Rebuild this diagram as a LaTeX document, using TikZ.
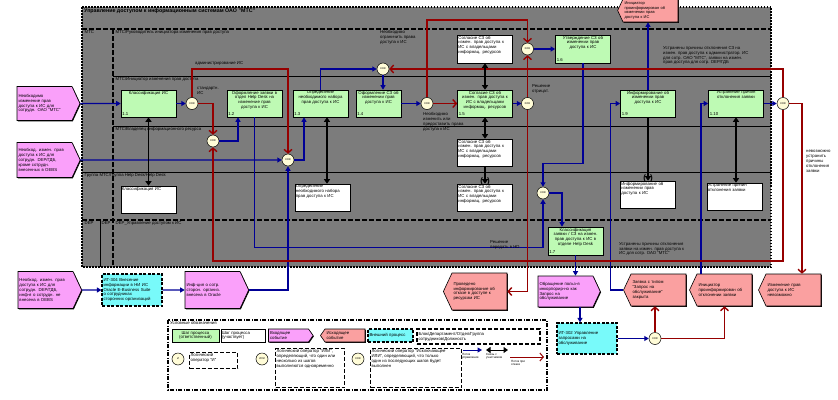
\documentclass[tikz,border=0pt]{standalone}
\usepackage{fontspec}
\setmainfont{Liberation Sans}
\usetikzlibrary{shapes.symbols,arrows.meta,shadows}

\definecolor{fonseryj}{RGB}{124,124,124}
\definecolor{shagzel}{RGB}{190,250,180}
\definecolor{sobvhod}{RGB}{250,160,250}
\definecolor{sobvyhod}{RGB}{250,160,160}
\definecolor{vnesh}{RGB}{120,250,250}
\definecolor{operfon}{RGB}{255,252,215}
\definecolor{potok}{RGB}{0,0,150}
\definecolor{otkaz}{RGB}{150,0,0}

\tikzset{
  ten/.style={drop shadow={shadow xshift=.8pt,shadow yshift=-.8pt,fill=black,opacity=1}},
  stepbox/.style 2 args={draw=black, line width=.6pt, fill=shagzel, ten,
    minimum width=55pt, minimum height=27pt, inner sep=0pt,
    label={[anchor=north, align=center, text width=52pt, inner sep=1pt]north:{#1}},
    label={[anchor=south west, inner sep=1.5pt]south west:{#2}}},
  rolebox/.style={draw=black, line width=.6pt, fill=white, ten,
    minimum width=55pt, minimum height=27pt, inner sep=0pt,
    label={[anchor=north west, align=left, text width=53pt, inner sep=1pt]north west:{#1}}},
  evin/.style={shape=signal, signal to=east, signal pointer angle=130,
    draw=black, line width=.6pt, fill=sobvhod, ten, align=left,
    inner sep=1.5pt, text width=52pt, minimum height=34pt},
  evout/.style={evin, signal to=west, fill=sobvyhod},
  extproc/.style={draw=black, line width=1.2pt, dash pattern=on 3pt off 1.5pt,
    fill=vnesh, align=left, text width=57pt, minimum height=32pt, inner sep=1.5pt},
  oper/.style={circle, draw=black, line width=.5pt, fill=operfon,
    minimum size=12pt, inner sep=0pt, font=\fontsize{2.6}{3}\selectfont},
  upr/.style={draw=potok, line width=1.4pt, -{Triangle[length=4.5pt,width=5pt]}},
  otk/.style={draw=otkaz, line width=1.4pt, -{Straight Barb[length=3.5pt,width=8pt]}},
  isp/.style={draw=black, line width=1.4pt,
    {Triangle[length=4.5pt,width=6pt]}-{Triangle[length=4.5pt,width=6pt]}},
  tun/.style={draw=black, line width=1.4pt, -{Triangle[length=4.5pt,width=6pt]}},
  skob/.style={font=\fontsize{8}{8}\selectfont\bfseries, inner sep=0pt},
  dorozhka/.style={anchor=north west, inner sep=.5pt},
  podp/.style={anchor=north west, align=left, inner sep=0pt},
  razd/.style={line width=1.2pt, dash pattern=on 5pt off 2pt},
  legbox/.style={draw=black, line width=1.2pt, dash pattern=on 4pt off 2pt,
    anchor=north west, inner sep=1pt},
}

\begin{document}
\begin{tikzpicture}[x=1pt, y=-1pt, font=\fontsize{4.3}{4.9}\selectfont]
\useasboundingbox (0,0) rectangle (838,399);

% Поле модели и дорожки
\fill[fonseryj] (82,7) rectangle (771,267);
\draw[line width=1.3pt, dash pattern=on 1.5pt off 1.5pt] (82,7) rectangle (771,267);
\node[anchor=north west, inner sep=1pt, font=\fontsize{5.3}{6}\selectfont\bfseries] (titul) at (83,7.5)
  {Управление доступом к информационным системам ОАО "МТС"};
\draw[razd] (82,29) -- (771,29);
\draw[line width=1pt] (113,76) -- (771,76);
\draw[line width=1pt] (113,126) -- (771,126);
\draw[line width=1pt] (82,172) -- (771,172);
\draw[razd] (82,220) -- (771,220);
\draw[razd] (113,29) -- (113,267);
\draw[line width=.6pt] (100,220) -- (100,267);
\node[dorozhka] (dmts) at (84,30) {МТС};
\node[dorozhka] (da) at (115,30) {МТС/Руководитель инициатора изменения прав доступа};
\node[dorozhka] (db) at (115,77) {МТС/Инициатор изменения прав доступа};
\node[dorozhka] (dc) at (115,127) {МТС/Владелец информационного ресурса};
\node[dorozhka] (dd) at (84,173) {Группа МТС/Группа Help Desk/Help Desk};
\node[dorozhka] (de1) at (84,221) {DEP};
\node[dorozhka] (de2) at (101,221) {DEP};
\node[dorozhka] (de3) at (115,221) {DEP\_Управление доступом к ИС};
\coordinate (ytop) at (0,20);
\coordinate (ybot) at (0,261);

% Шаги процесса
\node[stepbox={Классификация ИС}{1.1}] (s11) at (148.5,103.5) {};
\node[stepbox={Оформление заявки в\\отдел Help Desk на\\изменение прав\\доступа к ИС}{1.2}] (s12) at (254.5,103.5) {};
\node[stepbox={Определение\\необходимого набора\\прав доступа к ИС}{1.3}] (s13) at (320.5,103.5) {};
\node[stepbox={Оформление СЗ об\\изменении прав\\доступа к ИС}{1.4}, minimum width=45pt] (s14) at (378.5,103.5) {};
\node[stepbox={Согласие СЗ об\\измен. прав доступа к\\ИС с владельцами\\информац. ресурсов}{1.5}] (s15) at (485,103.5) {};
\node[stepbox={Утверждение СЗ об\\изменении прав\\доступа к ИС}{1.6}, minimum height=28pt] (s16) at (583,49) {};
\node[stepbox={Классификация\\заявки / СЗ на измен.\\прав доступа к ИС в\\отделе Help Desk}{1.7}, minimum height=28pt] (s17) at (575.5,241) {};
\node[stepbox={Информирование об\\изменении прав\\доступа к ИС}{1.9}] (s19) at (648,103.5) {};
\node[stepbox={Устранение причин\\отклонения заявки}{1.10}] (s110) at (736,103.5) {};

% Участники
\node[rolebox={Классификация ИС}] (r11) at (148.5,199.5) {};
\node[rolebox={Определение\\необходимого набора\\прав доступа к ИС}] (r13) at (322.5,197.5) {};
\node[rolebox={Согласие СЗ об\\измен. прав доступа к\\ИС с владельцами\\информац. ресурсов}, minimum height=28pt] (r15a) at (485,49) {};
\node[rolebox={Согласие СЗ об\\измен. прав доступа к\\ИС с владельцами\\информац. ресурсов}] (r15c) at (485,152.5) {};
\node[rolebox={Согласие СЗ об\\измен. прав доступа к\\ИС с владельцами\\информац. ресурсов}] (r15d) at (485,197.5) {};
\node[rolebox={Информирование об\\изменении прав\\доступа к ИС}] (r19) at (648,194.5) {};
\node[rolebox={Устранение причин\\отклонения заявки}] (r110) at (734.5,196.5) {};

% Логические операторы
\node[oper] (o1) at (192,103.5) {XOR};
\node[oper] (o2) at (213,141) {XOR};
\node[oper] (o3) at (288,160) {XOR};
\node[oper] (o4) at (383,69) {XOR};
\node[oper] (o5) at (427,103.5) {XOR};
\node[oper] (o6) at (527.5,49) {XOR};
\node[oper] (o7) at (527.5,103.5) {XOR};
\node[oper] (o8) at (543,193) {XOR};
\node[oper] (o9) at (783,103.5) {XOR};
\node[oper] (o10) at (655,338.5) {XOR};

% События и внешние процессы
\node[evin] (ev1) at (44.5,103.5) {Необходимо\\изменение прав\\доступа к ИС для\\сотрудн. ОАО "МТС"};
\node[evin, minimum height=35pt] (ev2) at (44.5,160) {Необход. измен. прав\\доступа к ИС для\\сотрудн. DEP/ГДБ,\\кроме сотрудн.\\внесенных в OEBS};
\node[evin, minimum height=37pt] (ev3) at (45.5,290) {Необход. измен. прав\\доступа к ИС для\\сотрудн. DEP/ГДБ,\\инф-я о сотрудн. не\\внесена в OEBS};
\node[extproc] (ext1) at (132,290) {ИТ-304 Внесение\\информации в НИ ИС\\Oracle E-Business Suite\\о сотрудниках\\сторонних организаций};
\node[evin, minimum height=37pt] (ev4) at (212.5,290) {Инф-ция о сотр.\\сторон. организ.\\внесена в Oracle};
\node[evout, minimum height=37pt] (ev5) at (479.5,291.5) {Проведено\\информирование об\\отказе в доступе к\\ресурсам ИС};
\node[evin, minimum height=31pt] (ev6) at (565.5,291.5) {Обращение польз-я\\инкорпорир-но как\\Запрос на\\обслуживание};
\node[extproc, minimum height=31pt] (ext2) at (587,338.5) {ИТ-302 Управление\\запросами на\\обслуживание};
\node[evout, minimum height=32pt] (ev7) at (658.5,290) {Заявка с типом\\"Запрос на\\обслуживание"\\закрыта};
\node[evout, minimum height=32pt] (ev8) at (724.5,290) {Инициатор\\проинформирован об\\отклонении заявки};
\node[evout, minimum height=32pt] (ev9) at (793.5,290) {Изменение прав\\доступа к ИС\\невозможно};
\node[evout, minimum height=23pt, font=\fontsize{4}{4.5}\selectfont] (ev10) at (650.5,10.5) {Инициатор\\проинформирован об\\изменении прав\\доступа к ИС};

% Поток управления
\draw[upr] (ev1) -- (s11);
\draw[upr] (s11) -- (o1);
\draw[upr] (o2.east) -| ([xshift=-16.5pt]s12.south);
\draw[upr] (s12.south) -- ++(0,130) -| (o8.south);
\draw[upr] (ev2) -- (o3);
\draw[upr] (o3.east) -| ([xshift=-16.5pt]s13.south);
\draw[upr] (s13.north) |- (o4.west);
\draw[upr] (o4) -- (o4 |- s14.north);
\draw[upr] (s14) -- (o5);
\draw[upr] (s15) -- (o7);
\draw[upr] (o6) -- (s16);
\draw[upr] (s16.south) -- ++(0,100) -| (o8.north);
\draw[upr] (o8.east) -| ([xshift=-13.5pt]s17.north);
\draw[upr] (s17.south) -- (s17.south |- ev6.north);
\draw[upr] ([xshift=-7pt]ext2.north |- ev6.south) -- ([xshift=-7pt]ext2.north);
\draw[upr] (ext2) -- (o10);
\draw[upr] (ev7.west) -- ++(-13,0) |- (s19.west);
\draw[upr] ([xshift=-23.5pt]ev8.north) |- (s110.west);
\draw[upr] (s19.north) -- (s19.north |- ev10.south);
\draw[upr] (s110) -- (o9);
\draw[upr] (ev3) -- (ext1);
\draw[upr] (ext1) -- (ev4);
\draw[upr] (ev4.east) -| (o3.south);

% Поток при отказе и возврат
\draw[otk] (o1.east) -| (o2.north);
\draw[otk] (o1.north) -- (o1 |- o4) -| (o3.north);
\draw[otk] (o5) -- (s15);
\draw[otk] (o5.north) -- (o5 |- ytop) -| (o6.north);
\draw[otk] (o7) -- (o6);
\draw[otk] (o7.south) |- (ev5.east);
\draw[otk] (o9.north) |- (o4.east);
\draw[otk] (o9.south) -- (o9 |- ybot) -| (o2.south);
\draw[otk] (o9.east) -| ([xshift=8.5pt]ev9.north);
\draw[otk] (o10) -- (o10 |- ev7.south);
\draw[otk] (o10.east) -| (ev8.south);

% Связи с участниками
\draw[isp] (s11) -- (r11);
\draw[isp] ([xshift=6.5pt]s13.south) -- ([xshift=6.5pt]s13.south |- r13.north);
\draw[isp] (s15) -- (r15a);
\draw[isp] (s15) -- (r15c);
\draw[tun] (r15c) -- (r15d);
\draw[tun] (s19) -- (r19);
\draw[isp] (s110.south) -- (s110.south |- r110.north);
\node[skob] (k1) at ([yshift=2.5pt]r15d.north) {(\hspace{4pt})};
\node[skob] (k2) at ([yshift=2.5pt]r19.north) {(\hspace{4pt})};

% Подписи
\node[podp] (t1) at (197,87) {стандартн.\\ИС};
\node[podp] (t2) at (195,61.5) {администрирование ИС};
\node[podp] (t3) at (380,30) {Необходимо\\ограничить права\\доступа к ИС};
\node[podp] (t4) at (423,112) {Необходимо\\изменить или\\предоставить права\\доступа к ИС};
\node[podp] (t5) at (532,84) {Решение\\отрицат.};
\node[podp] (t6) at (663,46) {Устранены причины отклонения СЗ на\\измен. прав доступа к администратор. ИС\\для сотр. ОАО "МТС", заявки на измен.\\прав доступа для сотр. DEP/ГДБ};
\node[podp] (t7) at (619,242) {Устранены причины отклонения\\заявки на измен. прав доступа к\\ИС для сотр. ОАО "МТС"};
\node[podp] (t8) at (490,240) {Решение\\передать в HD};
\node[podp] (t9) at (806,150) {невозможно\\устранить\\причины\\отклонения\\заявки};

% Условные обозначения
\draw[line width=1.2pt, dash pattern=on 4pt off 1.5pt on 1pt off 1.5pt] (168,320) rectangle (547,390);
\node[anchor=north west, inner sep=1pt] (lgz) at (169,320.5) {Условные обозначения};
\node[draw=black, line width=.6pt, fill=shagzel, minimum width=47pt, minimum height=13pt, align=center, inner sep=0pt] (lg1) at (195.5,335.5) {Шаг процесса\\(ответственный)};
\node[draw=black, line width=.6pt, fill=white, minimum width=44pt, minimum height=13pt, text width=42pt, align=left, inner sep=1pt] (lg2) at (243,335.5) {Шаг процесса\\(участвует)};
\node[evin, text width=37pt, minimum height=13pt, signal pointer angle=110] (lg3) at (288.5,335.5) {Входящее\\событие};
\node[evout, text width=37pt, minimum height=13pt, signal pointer angle=110] (lg4) at (345,335.5) {Исходящее\\событие};
\node[extproc, text width=42pt, minimum height=13pt] (lg5) at (390.5,335.5) {Внешний процесс};
\node[draw=black, line width=1.2pt, dash pattern=on 4pt off 2pt, minimum height=15pt, text width=120pt, align=left, inner sep=1.5pt] (lg6) at (478.5,336.5) {Блок/Департамент/Отдел/Группа\\сотрудников/Должность};
\node[oper] (lgo1) at (178,359) {И};
\node[oper] (lgo2) at (262,359) {ИЛИ};
\node[oper] (lgo3) at (358,359) {XOR};
\node[legbox] (lgt1) at (189,352) {\parbox[c][14pt][t]{46pt}{\raggedright Логический\\оператор "И"}};
\node[legbox] (lgt2) at (275,348) {\parbox[c][37pt][t]{67pt}{\raggedright Логический оператор "ИЛИ",\\определяющий, что один или\\несколько из шагов\\выполняются одновременно}};
\node[legbox] (lgt3) at (370,348) {\parbox[c][37pt][t]{89pt}{\raggedright Логический оператор "Исключающее\\ИЛИ", определяющий, что только\\один из последующих шагов будет\\выполнен}};
\coordinate (la1) at (463,350);
\coordinate (la2) at (482,350);
\coordinate (lb1) at (486,350);
\coordinate (lb2) at (508,350);
\coordinate (lc1) at (510,357);
\coordinate (lc2) at (544,357);
\draw[upr, line width=1pt] (la1) -- (la2);
\draw[isp, line width=1pt] (lb1) -- (lb2);
\draw[otk, line width=1pt] (lc1) -- (lc2);
\node[podp, font=\fontsize{3}{3.4}\selectfont] (lat1) at (462,353) {Поток\\управления};
\node[podp, font=\fontsize{3}{3.4}\selectfont] (lat2) at (486,353) {Связь с\\участником};
\node[podp, font=\fontsize{3}{3.4}\selectfont] (lat3) at (511,360) {Поток при\\отказе};
\end{tikzpicture}
\end{document}
